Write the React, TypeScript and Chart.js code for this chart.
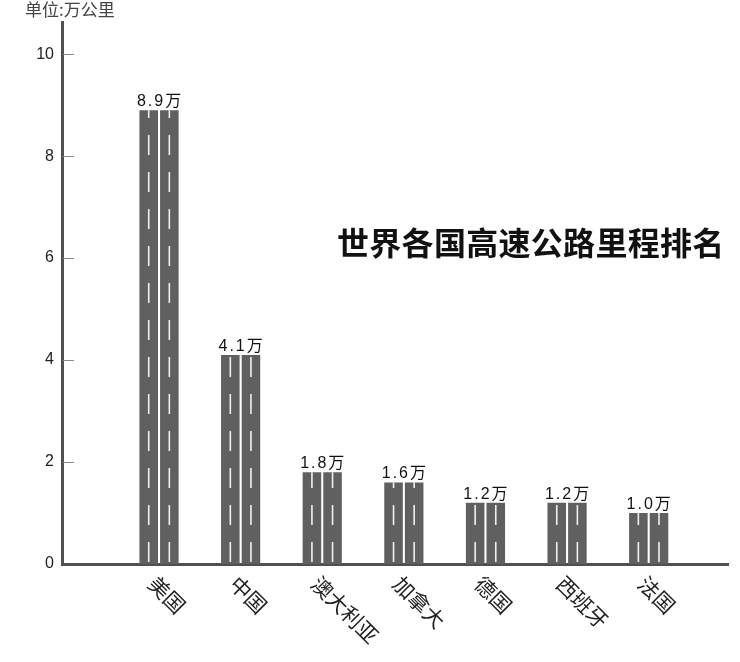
import React, { useEffect, useRef } from "react";
import { Chart, registerables } from "chart.js";

Chart.register(...registerables);

const categories = ["美国", "中国", "澳大利亚", "加拿大", "德国", "西班牙", "法国"];
const mileage = [8.9, 4.1, 1.8, 1.6, 1.2, 1.2, 1.0];
const unitLabel = "单位:万公里";
const titleText = "世界各国高速公路里程排名";
const valueSuffix = "万";

const BAR_COLOR = "#606060";
const AXIS_COLOR = "#505050";
const CJK = '"Noto Sans CJK SC", "Noto Sans", sans-serif';

const decorPlugin = {
  id: "decor",
  afterDatasetsDraw(chart: any) {
    const ctx = chart.ctx;
    ctx.save();
    chart.data.datasets.forEach((_: any, di: number) => {
      const meta = chart.getDatasetMeta(di);
      meta.data.forEach((el: any) => {
        const { x, y, base } = el.getProps(["x", "y", "base"], true);
        ctx.beginPath();
        ctx.setLineDash([20, 17]);
        ctx.lineDashOffset = -1;
        ctx.strokeStyle = "rgba(255,255,255,0.9)";
        ctx.lineWidth = 1.6;
        ctx.moveTo(x, base - 1);
        ctx.lineTo(x, y);
        ctx.stroke();
      });
    });
    ctx.restore();
  },
  afterDraw(chart: any) {
    const ctx = chart.ctx;
    const area = chart.chartArea;
    const xs = chart.scales.x;
    const ys = chart.scales.y;

    ctx.save();
    ctx.strokeStyle = "#8a8a8a";
    ctx.lineWidth = 1;
    ys.ticks.forEach((t: any) => {
      if (t.value === 0) return;
      const py = Math.round(ys.getPixelForValue(t.value)) + 0.5;
      ctx.beginPath();
      ctx.moveTo(area.left + 1, py);
      ctx.lineTo(area.left + 12, py);
      ctx.stroke();
    });
    ctx.restore();

    ctx.save();
    ctx.font = '16px "Liberation Sans", Arial, ' + CJK;
    (ctx as any).letterSpacing = "2px";
    ctx.fillStyle = "#111";
    ctx.textAlign = "center";
    ctx.textBaseline = "alphabetic";
    mileage.forEach((v, i) => {
      const px = xs.getPixelForValue(i + 1);
      const py = ys.getPixelForValue(v);
      ctx.fillText(v.toFixed(1) + valueSuffix, px + 1, py - 4);
    });
    ctx.restore();

    ctx.save();
    ctx.font = "21px " + CJK;
    ctx.fillStyle = "#222";
    ctx.textAlign = "left";
    ctx.textBaseline = "middle";
    categories.forEach((c, i) => {
      const px = xs.getPixelForValue(i + 1);
      ctx.save();
      ctx.translate(px - 7, area.bottom + 16);
      ctx.rotate(Math.PI / 4);
      ctx.fillText(c, 0, 0);
      ctx.restore();
    });
    ctx.restore();

    ctx.save();
    ctx.font = "17px " + CJK;
    ctx.fillStyle = "#444";
    ctx.textAlign = "left";
    ctx.textBaseline = "middle";
    ctx.fillText(unitLabel, 25, 10);
    ctx.restore();

    ctx.save();
    ctx.font = "bold 32px " + CJK;
    (ctx as any).letterSpacing = "0.3px";
    ctx.fillStyle = "#111";
    ctx.textAlign = "left";
    ctx.textBaseline = "middle";
    ctx.fillText(titleText, 337, 243);
    ctx.restore();
  },
};

export default function App() {
  const canvasRef = useRef<HTMLCanvasElement | null>(null);

  useEffect(() => {
    if (!canvasRef.current) return;
    const points = mileage.map((v, i) => ({ x: i + 1, y: v }));
    const chart = new Chart(canvasRef.current, {
      type: "bar",
      data: {
        datasets: [
          {
            label: "lane1",
            data: points,
            backgroundColor: BAR_COLOR,
            categoryPercentage: 0.52,
            barPercentage: 0.9,
          },
          {
            label: "lane2",
            data: points,
            backgroundColor: BAR_COLOR,
            categoryPercentage: 0.52,
            barPercentage: 0.9,
          },
        ],
      },
      options: {
        animation: false,
        responsive: true,
        maintainAspectRatio: false,
        layout: { padding: { left: 0, right: 12, top: 22, bottom: 0 } },
        plugins: {
          legend: { display: false },
          tooltip: { enabled: false },
          title: { display: false },
        },
        scales: {
          x: {
            type: "linear",
            offset: false,
            min: -0.189,
            max: 7.972,
            grid: { display: false, drawTicks: false, offset: false },
            border: { display: true, color: AXIS_COLOR, width: 3 },
            ticks: { display: false },
            afterFit: (s: any) => {
              s.height = 98;
            },
          },
          y: {
            min: 0,
            max: 10.63,
            grid: { display: false, drawTicks: false },
            border: { display: true, color: AXIS_COLOR, width: 3 },
            ticks: {
              stepSize: 2,
              includeBounds: false,
              padding: 8,
              color: "#222",
              font: { family: '"Liberation Sans", Arial, sans-serif', size: 16 },
            },
            afterFit: (s: any) => {
              s.width = 62;
            },
          },
        },
      },
      plugins: [decorPlugin],
    });
    return () => chart.destroy();
  }, []);

  return (
    <div
      style={{
        position: "absolute",
        left: 0,
        top: 0,
        width: 740,
        height: 662,
        background: "#fff",
      }}
    >
      <canvas ref={canvasRef} />
    </div>
  );
}
